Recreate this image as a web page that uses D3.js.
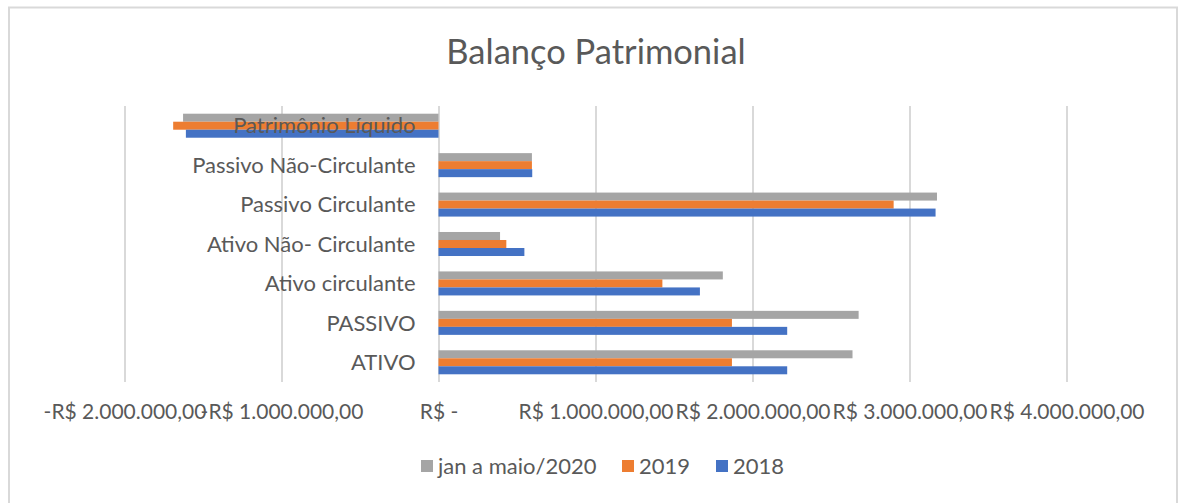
<!DOCTYPE html>
<html><head><meta charset="utf-8">
<script src="https://cdn.jsdelivr.net/npm/d3@7"></script>
<style>html,body{margin:0;padding:0;background:#fff;}svg{display:block;}</style>
</head><body>
<svg id="chart" width="1185" height="503"></svg>
<script>
const categories = ["Patrimônio Líquido","Passivo Não-Circulante","Passivo Circulante","Ativo Não- Circulante","Ativo circulante","PASSIVO","ATIVO"];
const seriesNames = ["jan a maio/2020","2019","2018"];
const seriesColors = ["#a5a5a5","#ed7d31","#4472c4"];
const values2020 = [-1627000, 595000, 3175000, 392000, 1811000, 2676000, 2637000];
const values2019 = [-1690000, 595000, 2899000, 432000, 1426000, 1869000, 1869000];
const values2018 = [-1609000, 597000, 3166000, 547000, 1665000, 2221000, 2221000];
const tickValues = [-2000000,-1000000,0,1000000,2000000,3000000,4000000];
const tickLabels = ["-R$ 2.000.000,00","-R$ 1.000.000,00","R$ -","R$ 1.000.000,00","R$ 2.000.000,00","R$ 3.000.000,00","R$ 4.000.000,00"];
const title = "Balanço Patrimonial";

const allSeries = [values2020, values2019, values2018];
const svg = d3.select("#chart");
const FONT = "Lato, 'Open Sans', sans-serif";
const TXT = "#595959";

svg.append("rect").attr("x",0).attr("y",0).attr("width",1185).attr("height",503).attr("fill","#fff");
// chart frame
svg.append("rect").attr("x",9).attr("y",7.5).attr("width",1168).attr("height",510)
  .attr("fill","#fff").attr("stroke","#d9d9d9").attr("stroke-width",2);

const x = d3.scaleLinear().domain([-2000000, 4000000]).range([124.5, 1066.5]);
const y = d3.scaleBand().domain(categories).range([106, 382]).paddingInner(0.391).paddingOuter(0.1955);
const ys = d3.scaleBand().domain(seriesNames).range([0, y.bandwidth()]);

// gridlines + tick labels
const xAxis = d3.axisBottom(x).tickValues(tickValues).tickSize(-(382-106)).tickPadding(0)
  .tickFormat((d,i)=>tickLabels[i]);
const gx = svg.append("g").attr("transform","translate(0,382)").call(xAxis);
gx.select(".domain").remove();
gx.selectAll(".tick line").attr("stroke","#d9d9d9").attr("stroke-width",2);
gx.selectAll(".tick text").attr("y",30).attr("dy","0.35em").attr("fill",TXT)
  .style("font-family",FONT).style("font-size","21px");

// bars
seriesNames.forEach((s, si) => {
  svg.append("g").selectAll("rect").data(allSeries[si]).join("rect")
    .attr("x", d => x(Math.min(0,d)))
    .attr("width", d => Math.abs(x(d)-x(0)))
    .attr("y", (d,i) => y(categories[i]) + ys(s))
    .attr("height", ys.bandwidth())
    .attr("fill", seriesColors[si]);
});

// category labels
svg.append("g").selectAll("text").data(categories).join("text")
  .attr("x", x(0) - 23)
  .attr("y", d => y(d) + y.bandwidth()/2)
  .attr("dy","0.35em")
  .attr("text-anchor","end")
  .attr("fill",TXT).style("font-family",FONT).style("font-size","22px")
  .text(d=>d);

// title
svg.append("text").attr("x",596).attr("y",52).attr("dy","0.35em").attr("text-anchor","middle")
  .attr("fill",TXT).style("font-family",FONT).style("font-size","34.5px").text(title);

// legend
const legendX = [421, 622, 716];
const lg = svg.append("g").selectAll("g").data(seriesNames).join("g")
  .attr("transform",(d,i)=>`translate(${legendX[i]},466)`);
lg.append("rect").attr("x",0).attr("y",-6).attr("width",12).attr("height",12).attr("fill",(d,i)=>seriesColors[i]);
lg.append("text").attr("x",17).attr("y",0).attr("dy","0.35em").attr("fill",TXT)
  .style("font-family",FONT).style("font-size","22px").text(d=>d);
</script>
</body></html>
